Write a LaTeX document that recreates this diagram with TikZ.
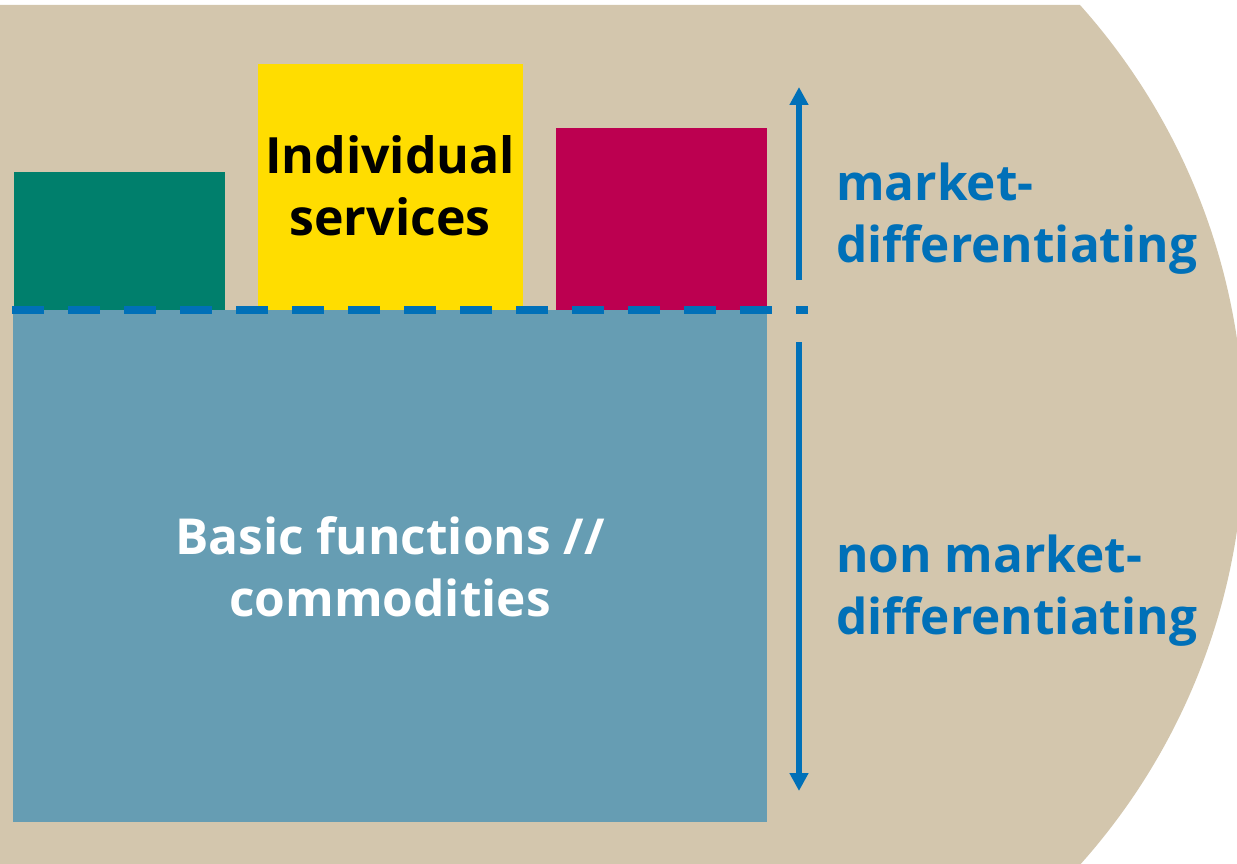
\documentclass[tikz,border=0pt]{standalone}
\usepackage{fontspec}
\setmainfont{Open Sans}
\usetikzlibrary{arrows.meta}
\definecolor{sandfill}{RGB}{211, 198, 173}
\definecolor{tealbox}{RGB}{0, 127, 108}
\definecolor{yellowbox}{RGB}{255, 221, 0}
\definecolor{berrybox}{RGB}{188, 0, 80}
\definecolor{basebox}{RGB}{102, 157, 179}
\definecolor{labelblue}{RGB}{0, 112, 184}
\tikzset{
    x=1pt, y=-1pt,
    block/.style={inner sep=0pt, outer sep=0pt, anchor=south west},
    blocktext/.style={align=center, inner sep=0pt,
        font=\bfseries\fontsize{#1}{62}\selectfont},
    sidelabel/.style={align=left, anchor=west, inner sep=0pt,
        text=labelblue, font=\bfseries\fontsize{49.5}{62}\selectfont},
    levelarrow/.style={draw=labelblue, line width=5.5pt,
        -{Triangle[width=18pt, length=18pt]}},
}

\begin{document}
\begin{tikzpicture}
        \useasboundingbox (0, 0) rectangle (1237, 864);
        % sand background with the round right side
        \fill[sandfill] (0, 5) -- (1080, 5)
            arc[start angle=-41.8, end angle=41.7, radius=645]
            -- (0, 864) -- cycle;
        % blocks
        \node[block, fill=basebox, minimum width=754pt, minimum height=512pt]
            (base) at (13, 822) {};
        \node[block, fill=tealbox, minimum width=211pt, minimum height=138pt]
            (teal) at (14, 310) {};
        \node[block, fill=yellowbox, minimum width=265pt, minimum height=246pt]
            (indiv) at (258, 310) {};
        \node[block, fill=berrybox, minimum width=211pt, minimum height=182pt]
            (berry) at (556, 310) {};
        \node[blocktext=50] (indivtext) at (390, 186) {Individual\\services};
        \node[blocktext=49.6, text=white] (basetext) at (390, 567)
            {Basic functions //\\commodities};
        % split line and arrows
        \coordinate (splitl) at (12, 310);
        \coordinate (splitr) at (808, 310);
        \draw[labelblue, line width=8pt, dash pattern=on 32pt off 24pt]
            (splitl) -- (splitr);
        \coordinate (uptail) at (799, 280);
        \coordinate (uptip) at (799, 87);
        \coordinate (downtail) at (799, 342);
        \coordinate (downtip) at (799, 791);
        \draw[levelarrow] (uptail) -- (uptip);
        \draw[levelarrow] (downtail) -- (downtip);
        \node[sidelabel] (difflabel) at (836, 219) {market-\\differentiating};
        \node[sidelabel] (nondifflabel) at (836, 591)
            {non market-\\differentiating};
    \end{tikzpicture}
\end{document}
